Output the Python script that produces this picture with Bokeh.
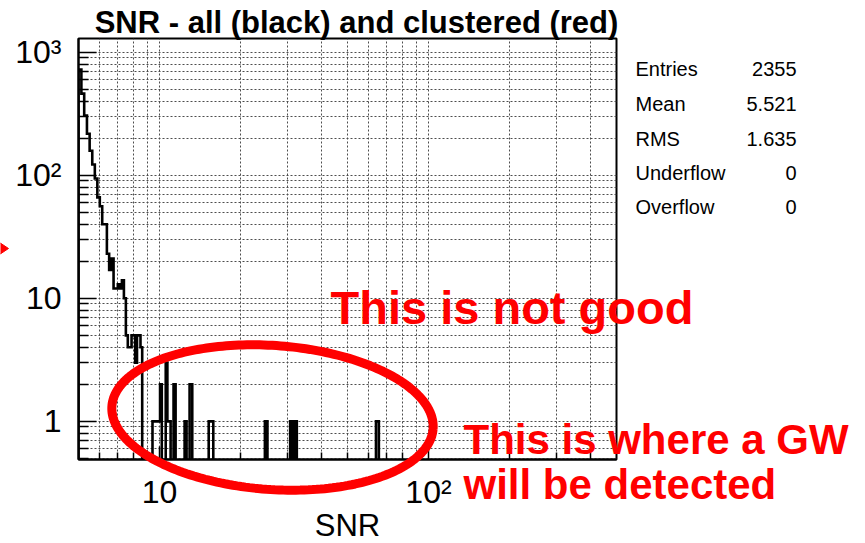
import numpy as np
from bokeh.plotting import figure
from bokeh.models import FixedTicker, Range1d, GridBox
from bokeh.core.properties import value
from bokeh.embed import file_html
from bokeh.resources import INLINE

# ---- histogram bins (SNR lower edge, upper edge, entries) ----
bin_lo = [5.000, 5.125, 5.250, 5.375, 5.500, 5.625, 5.750, 5.875, 6.000, 6.125,
          6.250, 6.375, 6.500, 6.625, 6.750, 6.875, 7.000, 7.125, 7.250, 7.375,
          7.500, 7.625, 7.750, 7.875, 8.000, 8.125, 8.250, 8.375, 8.500,
          9.42, 10.05, 10.55, 10.70, 11.28, 12.40, 12.94, 15.24, 24.65, 30.60, 31.70, 63.80]
bin_hi = [5.125, 5.250, 5.375, 5.500, 5.625, 5.750, 5.875, 6.000, 6.125, 6.250,
          6.375, 6.500, 6.625, 6.750, 6.875, 7.000, 7.125, 7.250, 7.375, 7.500,
          7.625, 7.750, 7.875, 8.000, 8.125, 8.250, 8.375, 8.500, 8.625,
          10.05, 10.20, 10.70, 11.00, 11.48, 12.61, 13.24, 15.85, 25.20, 31.20, 32.40, 65.40]
counts = [720, 460, 305, 217, 158, 122, 94, 66, 56, 40,
          40, 23, 17, 21, 12, 12, 13, 12, 14, 10,
          5, 4, 4, 5, 5, 3, 5, 5, 4,
          1, 2, 3, 1, 2, 1, 2, 1, 1, 1, 1, 1]

# ---- statistics box ----
stat_names = ["Entries", "Mean", "RMS", "Underflow", "Overflow"]
stat_values = ["2355", "5.521", "1.635", "0", "0"]

# ---- axes ----
X_MIN, X_MAX = 5, 500
Y_MIN, Y_MAX = 0.49, 1290
x_major = [10, 100]
x_minor = [6, 7, 8, 9, 20, 30, 40, 50, 60, 70, 80, 90, 200, 300, 400]
y_major = [1, 10, 100, 1000]
y_minor = [0.5, 0.6, 0.7, 0.8, 0.9, 2, 3, 4, 5, 6, 7, 8, 9,
           20, 30, 40, 50, 60, 70, 80, 90, 200, 300, 400, 500, 600, 700, 800, 900]
x_tick_labels = {10: "10", 100: "10\u00b2"}
y_tick_labels = {1: "1", 10: "10", 100: "10\u00b2", 1000: "10\u00b3"}

title_text = "SNR - all (black) and clustered (red)"
x_title = "SNR"
notes = ["This is not good", "This is where a GW", "will be detected"]

FONT = "Liberation Sans"
RED = "#ff0000"

# frame placement on the page (pixels)
FL, FT, FW, FH = 78, 38, 538, 421
W, H = 865, 543

p = figure(frame_width=FW, frame_height=FH,
           x_axis_type="log", y_axis_type="log",
           x_range=Range1d(X_MIN, X_MAX), y_range=Range1d(Y_MIN, Y_MAX),
           min_border_left=FL, min_border_right=W - FL - FW,
           min_border_top=FT, min_border_bottom=H - FT - FH,
           title=None, output_backend="svg", toolbar_location=None)
p.frame_align = False
p.background_fill_color = "white"
p.border_fill_color = "white"
p.outline_line_color = "black"
p.outline_line_width = 2

# grids (dotted, at every decade subdivision)
p.xgrid.ticker = FixedTicker(ticks=sorted(x_major + x_minor))
p.ygrid.ticker = FixedTicker(ticks=sorted(y_major + y_minor))
p.grid.grid_line_color = "#4d4d4d"
p.grid.grid_line_dash = "2 2"
p.grid.grid_line_width = 1
p.grid.grid_line_alpha = 1.0

for ax, majors, minors, labels, tin, mtin in [
        (p.xaxis, x_major, x_minor, x_tick_labels, 13, 7),
        (p.yaxis, y_major, y_minor, y_tick_labels, 18, 10)]:
    ax.ticker = FixedTicker(ticks=majors, minor_ticks=minors)
    ax.major_label_overrides = labels
    ax.major_tick_in = tin
    ax.major_tick_out = 0
    ax.minor_tick_in = mtin
    ax.minor_tick_out = 0
    ax.axis_line_width = 2
    ax.major_tick_line_width = 1.5
    ax.minor_tick_line_width = 1.5
    ax.major_label_text_font = FONT
    ax.major_label_text_font_size = "32px"
    ax.major_label_text_color = "black"
p.xaxis.major_label_standoff = 14
p.yaxis.major_label_standoff = 17

# histogram outline as a step path
floor = 0.3
hx, hy = [], []
prev_hi = None
for lo, hi, c in zip(bin_lo, bin_hi, counts):
    if prev_hi is None or abs(lo - prev_hi) > 1e-9:
        if prev_hi is not None:
            hx.append(prev_hi); hy.append(floor)
        hx.append(lo); hy.append(floor)
    hx.append(lo); hy.append(c)
    hx.append(hi); hy.append(c)
    prev_hi = hi
hx.append(prev_hi); hy.append(floor)
p.line(hx, hy, line_color="black", line_width=2.6, line_join="miter")

# ---- transparent overlay (page pixel coordinates, y downwards) for titles and notes ----
ov = figure(width=W, height=H, x_range=Range1d(0, W), y_range=Range1d(H, 0),
            x_axis_location=None, y_axis_location=None, min_border=0,
            title=None, output_backend="svg", toolbar_location=None)
ov.frame_align = False
ov.grid.visible = False
ov.outline_line_color = None
ov.background_fill_alpha = 0
ov.border_fill_alpha = 0


def text(xs, ys, ss, size, align="left", bold=False, color="black"):
    # ys are baselines; the svg text placement sits ~0.32 em lower, compensate
    px = float(size.replace("px", ""))
    ys = [y - 0.32 * px for y in ys]
    ov.text(x=xs, y=ys, text=ss, text_align=align, text_baseline="alphabetic",
            text_font=value(FONT), text_font_size=value(size),
            text_font_style="bold" if bold else "normal", text_color=color)


text([356], [32], [title_text], "31px", "center", bold=True)
text([347], [535], [x_title], "31px", "center")

stat_base = [75, 110, 145, 179, 213]
text([635] * 5, stat_base, stat_names, "20px", "left")
text([796] * 5, stat_base, stat_values, "20px", "right")

text([330], [322], [notes[0]], "47px", bold=True, color=RED)
text([463, 463], [452, 497], notes[1:], "42px", bold=True, color=RED)

# red ellipse around the high-SNR tail
t = np.linspace(0, 2 * np.pi, 240)
ecx, ecy, ea, eb, th = 272.0, 417.0, 161.0, 72.0, np.radians(4.0)
ex_px = ecx + ea * np.cos(t) * np.cos(th) - eb * np.sin(t) * np.sin(th)
ey_px = ecy + ea * np.cos(t) * np.sin(th) + eb * np.sin(t) * np.cos(th)
ov.line(ex_px, ey_px, line_color=RED, line_width=9)

# red arrow head at the left edge
ov.patch([-4, 8, -4], [240, 248, 256], fill_color=RED, line_color=RED)

layout = GridBox(children=[(p, 0, 0), (ov, 0, 0)])
open("out.html", "w").write(file_html(layout, INLINE))
